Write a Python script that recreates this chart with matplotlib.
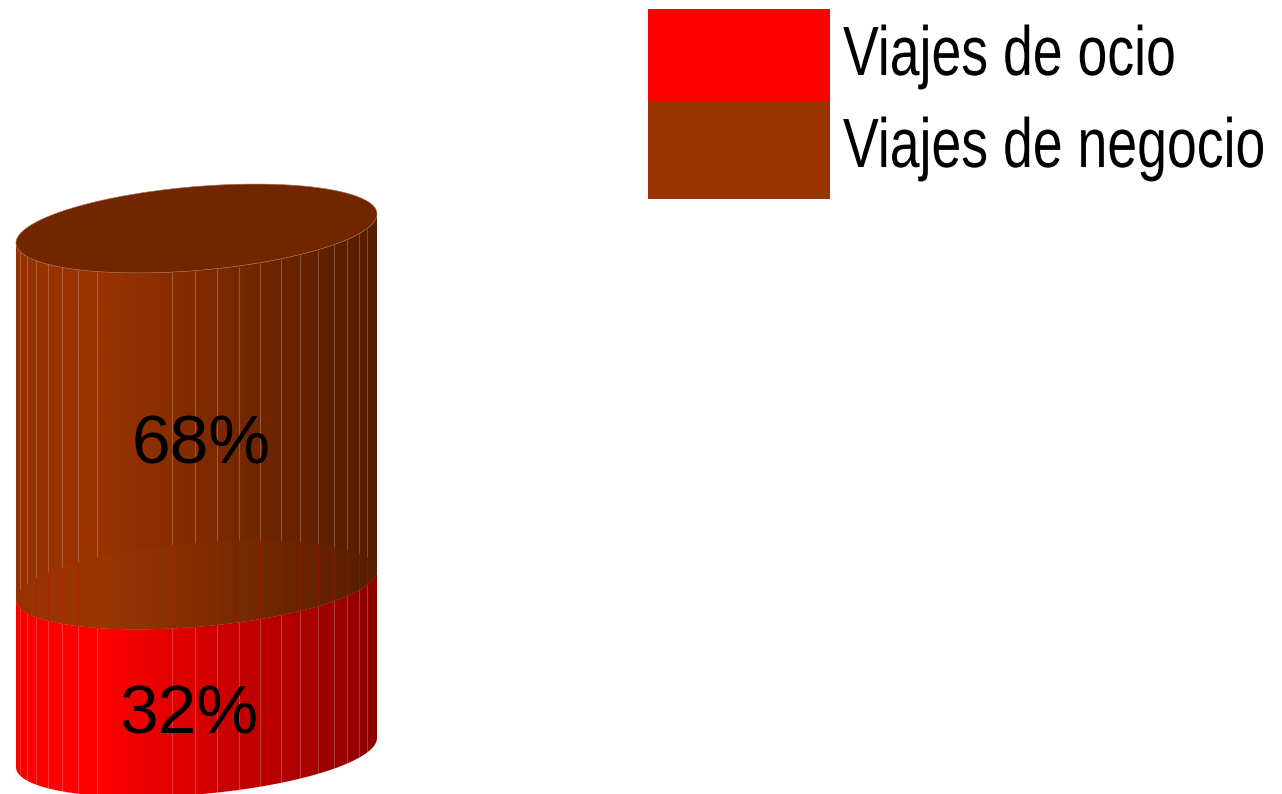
import matplotlib
matplotlib.use('Agg')
import matplotlib.pyplot as plt
import numpy as np
from matplotlib.patches import Polygon, Rectangle
from matplotlib.patheffects import AbstractPathEffect
from matplotlib.transforms import Affine2D

# shares
labels = ['Viajes de ocio', 'Viajes de negocio']
shares = [32, 68]
colors = ['#ff0000', '#993300']
facets = [20, 27, 36, 48, 62, 78, 97, 172, 195, 217, 239, 260, 281, 300, 318, 334, 347, 359, 367]

plt.rcParams['font.family'] = ['Liberation Sans']

W, H = 1282, 794
LEFT, RIGHT = 16, 377
CX = (LEFT + RIGHT) / 2
A = (RIGHT - LEFT) / 2
B = 42
TILT = 14.5
BASE = 752.5
PX_PER_PCT = 5.24


class Tall(AbstractPathEffect):
    # stretches glyphs upward from the baseline, the legend text is tightly set
    def __init__(self, k):
        super().__init__()
        self.k = k

    def draw_path(self, renderer, gc, tpath, affine, rgbFace=None):
        renderer.draw_path(gc, tpath, Affine2D().scale(1, self.k) + affine, rgbFace)


def level(value):
    return BASE - value * PX_PER_PCT


def arc(value, t):
    x = CX + A * np.cos(t)
    y = level(value) + B * np.sin(t) - TILT * np.cos(t)
    return np.column_stack([x, y])


def y_front(value, x):
    c = (x - CX) / A
    return level(value) + B * np.sqrt(np.clip(1 - c ** 2, 0, 1)) - TILT * c


def y_back(value, x):
    c = (x - CX) / A
    return level(value) - B * np.sqrt(np.clip(1 - c ** 2, 0, 1)) - TILT * c


def shade(hex_color, boost=0.0):
    # horizontal light falloff of the cylinder wall
    xs = np.arange(LEFT, RIGHT + 1)
    f = np.interp(xs, [LEFT, 60, 100, RIGHT], [0.97, 1.0, 1.0, 0.55])
    rgb = np.array(matplotlib.colors.to_rgb(hex_color))
    img = np.clip(f[:, None] * rgb + boost, 0, 1)
    return img[None, :, :]


def wall(ax, lo, hi, color, z):
    t_front = np.linspace(0, np.pi, 200)
    t_back = np.linspace(np.pi, 0, 200)
    pts = np.vstack([arc(lo, t_front), arc(hi, t_back)])
    patch = Polygon(pts, closed=True, fc='none', ec='none', transform=ax.transData)
    ax.add_patch(patch)
    im = ax.imshow(shade(color), extent=[LEFT, RIGHT, 800, 150], aspect='auto', zorder=z,
                   interpolation='bilinear')
    im.set_clip_path(patch)
    return patch


fig = plt.figure(figsize=(W / 100, H / 100), dpi=100)
ax = fig.add_axes([0, 0, 1, 1])
ax.axis('off')

low, total = shares[0], sum(shares)

wall(ax, 0, low, colors[0], 1)
xs = np.array(facets, dtype=float)
ax.vlines(xs, y_front(low, xs), y_front(0, xs), color='white', alpha=0.22, lw=0.8, zorder=2)

wall(ax, low, total, colors[1], 3)
ax.vlines(xs, y_front(total, xs), y_back(low, xs), color='white', alpha=0.22, lw=0.8, zorder=4)

# the red top shows through the brown wall
t = np.linspace(0, 2 * np.pi, 300)
inner = Polygon(arc(low, t), closed=True, fc='none', ec='none')
ax.add_patch(inner)
im = ax.imshow(shade(colors[1], 0.008), extent=[LEFT, RIGHT, 800, 150], aspect='auto', zorder=5,
               interpolation='bilinear')
im.set_clip_path(inner)
ax.vlines(xs, y_back(low, xs), y_front(low, xs), color='#cc1100', alpha=0.3, lw=0.8, zorder=6)

ax.add_patch(Polygon(arc(total, t), closed=True, fc='#722600', ec='#a86a45', lw=0.4, zorder=7))

ax.text(201, 446, f'{shares[1]}%', fontsize=50, ha='center', va='center', color='black', zorder=8)
ax.text(189, 716, f'{shares[0]}%', fontsize=50, ha='center', va='center', color='black', zorder=8)

# legend
box_tops = [9, 101]
box_bottoms = [101, 199]
text_y = [75, 167]
for name, col, top, bot, ty in zip(labels, colors, box_tops, box_bottoms, text_y):
    ax.add_patch(Rectangle((648, top), 182, bot - top, fc=col, ec='none', zorder=2))
    ax.text(843, ty, name, fontsize=38.6, ha='left', va='baseline', color='black',
            path_effects=[Tall(1.3)])

ax.set_xlim(0, W)
ax.set_ylim(H, 0)
fig.savefig('out.png', dpi=100, facecolor='white')
